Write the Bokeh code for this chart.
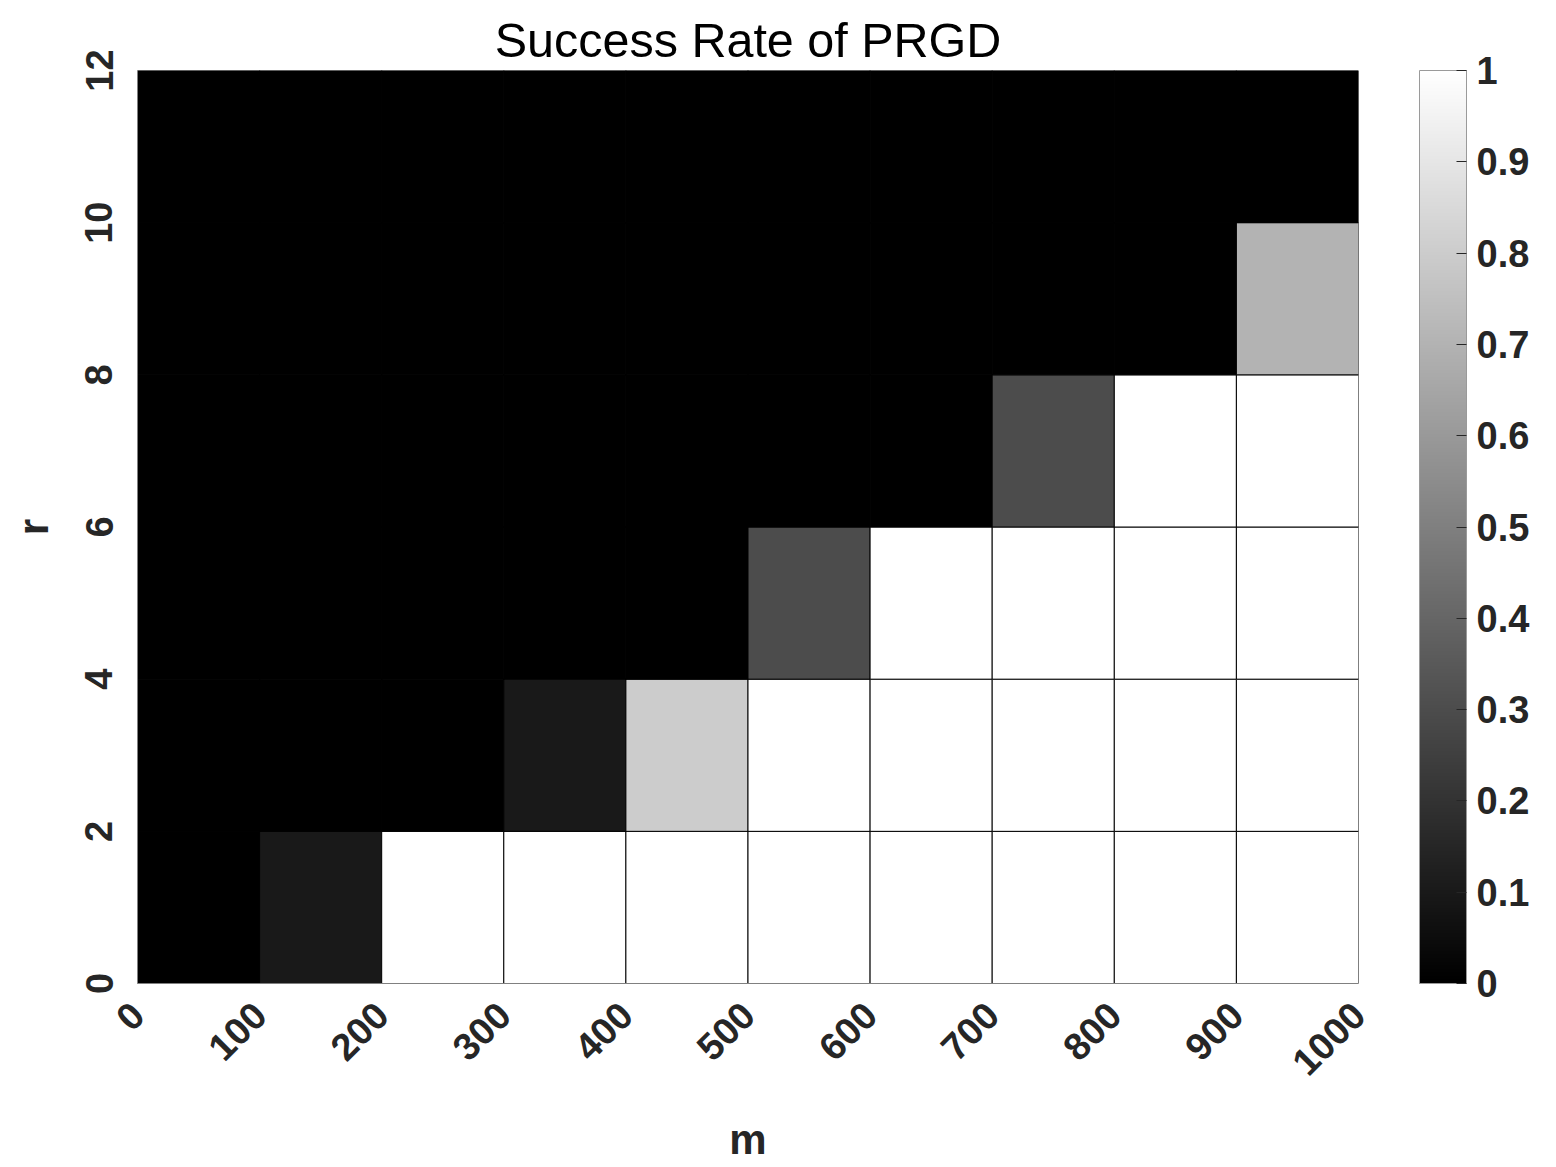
import numpy as np
from bokeh.plotting import figure
from bokeh.models import (ColumnDataSource, LinearColorMapper, ColorBar, FixedTicker,
                          Range1d, Title)
from bokeh.embed import file_html
from bokeh.resources import INLINE

# ---- data ----
m_edges = [0, 100, 200, 300, 400, 500, 600, 700, 800, 900, 1000]
r_edges = [0, 2, 4, 6, 8, 10, 12]
# success rate, rows from r=0..2 (bottom) to r=10..12 (top), columns m=0..100 ... 900..1000
rate_r0 = [0.0, 0.1, 1.0, 1.0, 1.0, 1.0, 1.0, 1.0, 1.0, 1.0]
rate_r2 = [0.0, 0.0, 0.0, 0.1, 0.8, 1.0, 1.0, 1.0, 1.0, 1.0]
rate_r4 = [0.0, 0.0, 0.0, 0.0, 0.0, 0.3, 1.0, 1.0, 1.0, 1.0]
rate_r6 = [0.0, 0.0, 0.0, 0.0, 0.0, 0.0, 0.0, 0.3, 1.0, 1.0]
rate_r8 = [0.0, 0.0, 0.0, 0.0, 0.0, 0.0, 0.0, 0.0, 0.0, 0.7]
rate_r10 = [0.0, 0.0, 0.0, 0.0, 0.0, 0.0, 0.0, 0.0, 0.0, 0.0]
rates = [rate_r0, rate_r2, rate_r4, rate_r6, rate_r8, rate_r10]
x_ticks = [0, 100, 200, 300, 400, 500, 600, 700, 800, 900, 1000]
y_ticks = [0, 2, 4, 6, 8, 10, 12]
cb_ticks = [0, 0.1, 0.2, 0.3, 0.4, 0.5, 0.6, 0.7, 0.8, 0.9, 1.0]
x_label = "m"
y_label = "r"
title_text = "Success Rate of PRGD"

left, right, bottom, top, val = [], [], [], [], []
for i, row in enumerate(rates):
    for j, v in enumerate(row):
        left.append(m_edges[j]); right.append(m_edges[j + 1])
        bottom.append(r_edges[i]); top.append(r_edges[i + 1])
        val.append(v)
src = ColumnDataSource(dict(left=left, right=right, bottom=bottom, top=top, val=val))

gray = ["#%02x%02x%02x" % (i, i, i) for i in range(256)]
mapper = LinearColorMapper(palette=gray, low=0, high=1)

FONT = "Liberation Sans"
TXT = "#262626"

FRAME_W = 1221
FRAME_H = 913
p = figure(frame_width=FRAME_W, frame_height=FRAME_H, output_backend="svg", toolbar_location=None,
           x_range=Range1d(0, 1000), y_range=Range1d(0, 12),
           min_border_left=137, min_border_right=1540 - 137 - FRAME_W,
           min_border_top=70, min_border_bottom=1167 - 70 - FRAME_H)
p.outline_line_color = None
p.grid.visible = False

p.quad(left="left", right="right", bottom="bottom", top="top", source=src,
       fill_color={"field": "val", "transform": mapper}, line_color="black", line_width=1)

p.title = Title(text=title_text, align="center", text_font=FONT,
                text_font_size="48.5px", text_font_style="normal", text_color="black",
                offset=0, standoff=8)

for ax in (p.xaxis[0], p.yaxis[0]):
    ax.major_label_text_font = FONT
    ax.major_label_text_font_size = "38px"
    ax.major_label_text_font_style = "bold"
    ax.major_label_text_color = TXT
    ax.axis_label_text_font = FONT
    ax.axis_label_text_font_size = "42px"
    ax.axis_label_text_font_style = "bold"
    ax.axis_label_text_color = TXT
    ax.major_tick_in = 0
    ax.major_tick_out = 0
    ax.minor_tick_line_color = None
    ax.axis_line_color = "#808080"
    ax.axis_line_width = 1

p.xaxis.ticker = FixedTicker(ticks=x_ticks)
p.yaxis.ticker = FixedTicker(ticks=y_ticks)
p.xaxis.axis_label = x_label
p.yaxis.axis_label = y_label
p.xaxis.major_label_orientation = np.pi / 4
p.yaxis.major_label_orientation = "vertical"
p.xaxis.major_label_standoff = 25
p.yaxis.major_label_standoff = 25
p.xaxis.axis_label_standoff = 26
p.yaxis.axis_label_standoff = 26

cb = ColorBar(color_mapper=mapper, ticker=FixedTicker(ticks=cb_ticks),
              width=47, height=FRAME_H, padding=0, margin=0, location=(FRAME_W + 61, 0),
              bar_line_color="#9a9a9a", bar_line_width=1,
              major_tick_in=10, major_tick_out=0, major_tick_line_color=TXT,
              minor_tick_line_color=None,
              major_label_text_font=FONT, major_label_text_font_size="38px",
              major_label_text_font_style="bold", major_label_text_color=TXT,
              label_standoff=10, background_fill_color=None, border_line_color=None)
p.add_layout(cb)

open("out.html", "w").write(file_html(p, INLINE))
